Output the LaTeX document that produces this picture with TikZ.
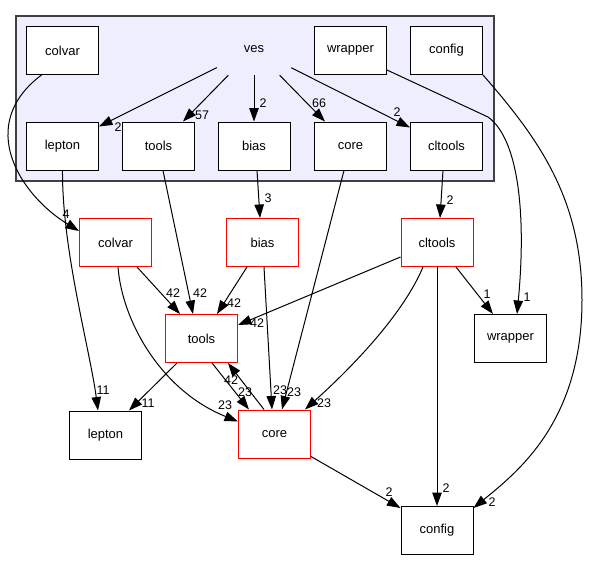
\documentclass[tikz,border=0pt]{standalone}
\usepackage{fontspec}
\setmainfont{Liberation Sans}
\usepackage{xcolor}
\usepackage{tikz}
\usetikzlibrary{positioning,calc,arrows.meta}

\definecolor{clusterfill}{HTML}{EEEEFF}
\definecolor{clusterline}{HTML}{404040}

\begin{document}
\begin{tikzpicture}[
					x=1pt, y=-1pt,
					dirbox/.style={
						rectangle, draw=black, fill=white, line width=1pt,
						minimum width=72pt, minimum height=48pt, inner sep=0pt,
						font=\fontsize{13}{15}\selectfont
					},
					reddir/.style={
						dirbox, draw=red
					},
					cluster/.style={
						draw=clusterline, fill=clusterfill, line width=1.2pt
					},
					dep/.style={
						draw=black, line width=1pt,
						-{Triangle[length=13.5pt,width=9.5pt]}
					},
					elabel/.style={
						font=\fontsize{12.5}{14}\selectfont, inner sep=0pt
					}
					]
					\useasboundingbox (0,0) rectangle (589,560);
					
					% --- cluster ves ---
					\draw[cluster] (16,16) rectangle (494,181);
					\node[font=\fontsize{13}{15}\selectfont, minimum width=74pt, minimum height=52pt, inner sep=0pt] (ves) at (254,49) {ves};
					
					\node[dirbox] (colvar_in)  at (62.5,50.5)  {colvar};
					\node[dirbox] (wrapper_in) at (350.5,50.5) {wrapper};
					\node[dirbox] (config_in)  at (446.5,50.5) {config};
					\node[dirbox] (lepton_in)  at (62.5,146)   {lepton};
					\node[dirbox] (tools_in)   at (158.5,146)  {tools};
					\node[dirbox] (bias_in)    at (254,146)    {bias};
					\node[dirbox] (core_in)    at (350.5,146)  {core};
					\node[dirbox] (cltools_in) at (446.5,146)  {cltools};
					
					% --- directories outside ves ---
					\node[reddir] (colvar)  at (115.5,242.5) {colvar};
					\node[reddir] (bias)    at (262.5,242.5) {bias};
					\node[reddir] (cltools) at (437,242.5)   {cltools};
					\node[reddir] (tools)   at (201.5,338.5) {tools};
					\node[dirbox] (wrapper) at (510.5,338.5) {wrapper};
					\node[dirbox] (lepton)  at (105.5,435)   {lepton};
					\node[reddir] (core)    at (274.5,434)   {core};
					\node[dirbox] (config)  at (437,530.5)   {config};
					
					% --- ves -> its subdirectories ---
					\draw[dep] (ves) -- ([yshift=-5pt]lepton_in.north east) node[elabel] at (118,127) {2};
					\draw[dep] (ves) -- ([xshift=24.5pt]tools_in.north) node[elabel] at (202,115) {57};
					\draw[dep] (ves) -- (bias_in) node[elabel] at (263,103) {2};
					\draw[dep] (ves) -- ([xshift=-25.5pt]core_in.north) node[elabel] at (319,103) {66};
					\draw[dep] (ves) -- ([yshift=-6pt]cltools_in.north west) node[elabel] at (397,112) {2};
					
					% --- ves subdirectories -> outside ---
					\draw[dep] ([xshift=-21pt]colvar_in.south) .. controls (-25,125) and (20,195) .. ([yshift=-13pt]colvar.north west) node[elabel] at (66,214) {4};
					\draw[dep] (lepton_in.south) .. controls (62,250) and (90,350) .. ([xshift=-7.5pt]lepton.north) node[elabel] at (103,390) {11};
					\draw[dep] ([xshift=4.5pt]tools_in.south) -- ([xshift=-8.5pt]tools.north) node[elabel] at (200,293) {42};
					\draw[dep] ([xshift=3pt]bias_in.south) -- ([xshift=-2.5pt]bias.north) node[elabel] at (268,198) {3};
					\draw[dep] ([xshift=-6.5pt]core_in.south) -- ([xshift=7.5pt]core.north) node[elabel] at (294,392) {23};
					\draw[dep] ([xshift=-3.5pt]cltools_in.south) -- ([xshift=3pt]cltools.north) node[elabel] at (450,200) {2};
					\draw[dep] ([yshift=5pt]wrapper_in.south east) -- (488,117) .. controls (520,140) and (526,220) .. ([xshift=6.5pt]wrapper.north) node[elabel] at (527,297) {1};
					\draw[dep] (config_in.south east) .. controls (540,140) and (582,200) .. (582,300) .. controls (582,420) and (520,470) .. ([yshift=-2pt]config.north east) node[elabel] at (492,502) {2};
					
					% --- outside dependencies ---
					\draw[dep] ([xshift=21.5pt]colvar.south) -- ([xshift=-21.5pt]tools.north) node[elabel] at (173,293) {42};
					\draw[dep] ([xshift=2.5pt]colvar.south) .. controls (122,320) and (160,390) .. ([yshift=-12pt]core.north west) node[elabel] at (225,405) {23};
					\draw[dep] ([xshift=-15.5pt]bias.south) -- ([xshift=15.5pt]tools.north) node[elabel] at (234,303) {42};
					\draw[dep] ([xshift=1.5pt]bias.south) -- ([xshift=-2.5pt]core.north) node[elabel] at (280,390) {23};
					\draw[dep] ([yshift=10pt]cltools.south west) -- ([yshift=-11pt]tools.north east) node[elabel] at (257,323) {42};
					\draw[dep] ([xshift=-14pt]cltools.south) .. controls (405,310) and (360,360) .. ([xshift=30.5pt]core.north) node[elabel] at (324,403) {23};
					\draw[dep] (cltools) -- (config) node[elabel] at (446,488) {2};
					\draw[dep] ([xshift=19pt]cltools.south) -- ([xshift=-17.5pt]wrapper.north) node[elabel] at (487,294) {1};
					\draw[dep] ([xshift=-24.5pt]tools.south) -- ([xshift=23.5pt]lepton.north) node[elabel] at (148,403) {11};
					\draw[dep] ([xshift=10.5pt]tools.south) -- ([xshift=-25.5pt]core.north) node[elabel] at (245,392) {23};
					\draw[dep] ([xshift=-10.5pt]core.north) -- ([xshift=26.5pt]tools.south) node[elabel] at (231,380) {42};
					\draw[dep] ([yshift=2pt]core.south east) -- ([yshift=-2pt]config.north west) node[elabel] at (389,492) {2};
					
				\end{tikzpicture}
\end{document}
